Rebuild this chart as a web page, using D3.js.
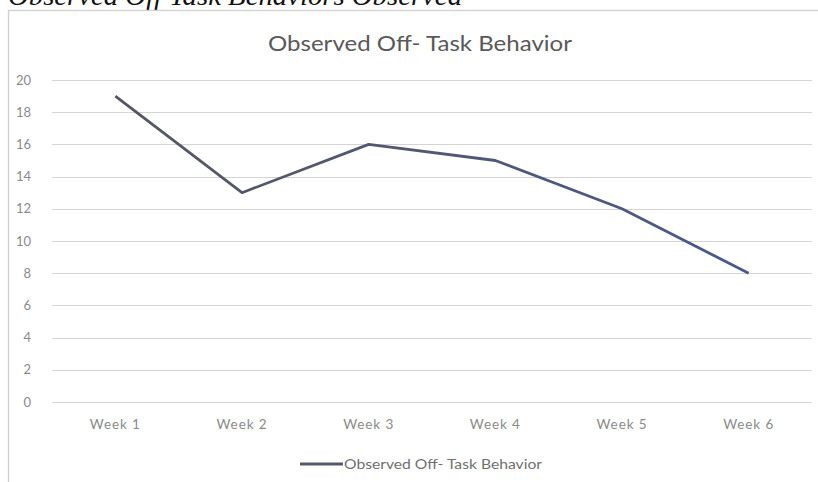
<!DOCTYPE html>
<html>
<head>
<meta charset="utf-8">
<script src="https://cdn.jsdelivr.net/npm/d3@7"></script>
<style>
  html, body { margin: 0; padding: 0; background: #fff; }
  svg { display: block; }
</style>
</head>
<body>
<div id="chart"></div>
<script>
// chart data
const weeks = ["Week 1", "Week 2", "Week 3", "Week 4", "Week 5", "Week 6"];
const offTaskValues = [19, 13, 16, 15, 12, 8];
const yTicks = [0, 2, 4, 6, 8, 10, 12, 14, 16, 18, 20];
const seriesName = "Observed Off- Task Behavior";
const chartTitle = "Observed Off- Task Behavior";
const pageHeading = "Observed Off Task Behaviors Observed";

const W = 818, H = 482;
const margin = { top: 80, right: 6, bottom: 80, left: 52 };
const FONT = "Lato, Open Sans, sans-serif";

const svg = d3.select("#chart").append("svg")
  .attr("width", W)
  .attr("height", H);

// heading from the document, cut off at the top like the scan
svg.append("text")
  .attr("x", 8)
  .attr("y", 5)
  .attr("font-family", "Liberation Serif, serif")
  .attr("font-style", "italic")
  .attr("font-size", 27)
  .attr("textLength", 454)
  .attr("lengthAdjust", "spacingAndGlyphs")
  .attr("fill", "#111")
  .text(pageHeading);

// chart frame
svg.append("rect")
  .attr("x", 8.5)
  .attr("y", 10.5)
  .attr("width", W)
  .attr("height", H)
  .attr("fill", "#fff")
  .attr("stroke", "#d0d0d0")
  .attr("stroke-width", 1.3);

const x = d3.scaleBand()
  .domain(weeks)
  .range([margin.left, W - margin.right]);

const y = d3.scaleLinear()
  .domain([0, 20])
  .range([402, 80]);

// gridlines
svg.append("g")
  .selectAll("line")
  .data(yTicks)
  .join("line")
  .attr("x1", margin.left)
  .attr("x2", W - margin.right)
  .attr("y1", d => Math.round(y(d)) + 0.5)
  .attr("y2", d => Math.round(y(d)) + 0.5)
  .attr("stroke", "#d4d4d4")
  .attr("stroke-width", 1.2);

// y axis labels
const yAxis = d3.axisLeft(y).tickValues(yTicks).tickSize(0).tickPadding(21);
svg.append("g")
  .attr("transform", `translate(${margin.left},0)`)
  .call(yAxis)
  .call(g => g.select(".domain").remove())
  .call(g => g.selectAll("text")
    .attr("font-family", FONT)
    .attr("font-size", 13)
    .attr("fill", "#8a8a8a"));

// x axis labels
const xAxis = d3.axisBottom(x).tickSize(0).tickPadding(17);
svg.append("g")
  .attr("transform", `translate(0,${y(0)})`)
  .call(xAxis)
  .call(g => g.select(".domain").remove())
  .call(g => g.selectAll("text")
    .attr("font-family", FONT)
    .attr("font-size", 13.5)
    .attr("letter-spacing", 0.9)
    .attr("fill", "#8a8a8a"));

// line stroke fades from grey to slate blue like the scan
const grad = svg.append("defs").append("linearGradient")
  .attr("id", "lineGrad")
  .attr("gradientUnits", "userSpaceOnUse")
  .attr("x1", x(weeks[0]))
  .attr("x2", x(weeks[weeks.length - 1]) + x.bandwidth())
  .attr("y1", 0)
  .attr("y2", 0);
grad.append("stop").attr("offset", "0%").attr("stop-color", "#55575f");
grad.append("stop").attr("offset", "45%").attr("stop-color", "#525870");
grad.append("stop").attr("offset", "100%").attr("stop-color", "#4a5890");

const line = d3.line()
  .x((d, i) => x(weeks[i]) + x.bandwidth() / 2)
  .y(d => y(d));

svg.append("path")
  .datum(offTaskValues)
  .attr("d", line)
  .attr("fill", "none")
  .attr("stroke", "url(#lineGrad)")
  .attr("stroke-width", 2.8)
  .attr("stroke-linejoin", "round");

// chart title
svg.append("text")
  .attr("x", 420)
  .attr("y", 51)
  .attr("text-anchor", "middle")
  .attr("font-family", FONT)
  .attr("font-size", 21)
  .attr("textLength", 304)
  .attr("lengthAdjust", "spacingAndGlyphs")
  .attr("fill", "#595959")
  .text(chartTitle);

// legend
const legend = svg.append("g").attr("transform", "translate(300,464)");
legend.append("line")
  .attr("x1", 0).attr("x2", 43)
  .attr("y1", 0).attr("y2", 0)
  .attr("stroke", "#525870")
  .attr("stroke-width", 2.8);
legend.append("text")
  .attr("x", 44)
  .attr("y", 4.5)
  .attr("font-family", FONT)
  .attr("font-size", 12.5)
  .attr("textLength", 198)
  .attr("lengthAdjust", "spacingAndGlyphs")
  .attr("fill", "#707070")
  .text(seriesName);
</script>
</body>
</html>
